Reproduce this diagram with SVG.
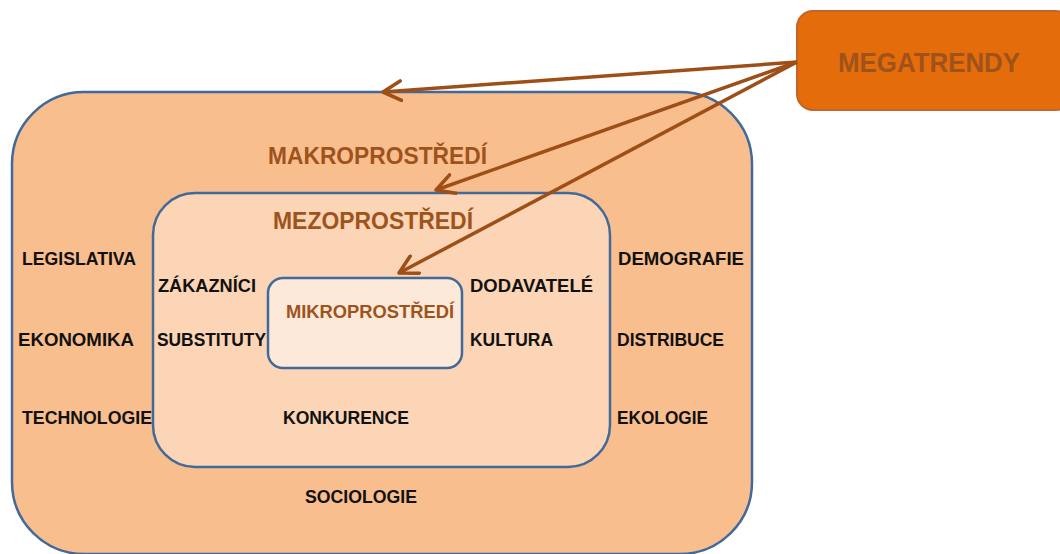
<svg xmlns="http://www.w3.org/2000/svg" width="1060" height="554" viewBox="0 0 1060 554">
<defs>
<style>
.box{stroke:#41699A;stroke-width:2.5}
.lbl{font-family:"Liberation Sans",Arial,sans-serif;font-weight:bold;font-size:19px;fill:#111}
.ttl{font-family:"Liberation Sans",Arial,sans-serif;font-weight:bold;fill:#9E531C}
.conn{stroke:#9E4F17;stroke-width:3.5;fill:none;marker-end:url(#ah)}
</style>
<marker id="ah" viewBox="0 0 14 14" refX="12" refY="7" markerWidth="6.5" markerHeight="6.5" orient="auto" markerUnits="strokeWidth">
<path d="M1,1 L12,7 L1,13" fill="none" stroke="#9E4F17" stroke-width="2.2" stroke-linecap="round" stroke-linejoin="round"/>
</marker>
</defs>
<rect width="1060" height="554" fill="#fff"/>
<g id="makro">
<rect class="box" x="12" y="92" width="740" height="462" rx="72" fill="#F9BE8E"/>
<text class="ttl" x="268" y="164" font-size="24" textLength="219" lengthAdjust="spacingAndGlyphs">MAKROPROSTŘEDÍ</text>
<text class="lbl" x="22" y="265" textLength="114" lengthAdjust="spacingAndGlyphs">LEGISLATIVA</text>
<text class="lbl" x="18" y="346" textLength="116" lengthAdjust="spacingAndGlyphs">EKONOMIKA</text>
<text class="lbl" x="22" y="424" textLength="130" lengthAdjust="spacingAndGlyphs">TECHNOLOGIE</text>
<text class="lbl" x="618" y="265" textLength="126" lengthAdjust="spacingAndGlyphs">DEMOGRAFIE</text>
<text class="lbl" x="617" y="346" textLength="107" lengthAdjust="spacingAndGlyphs">DISTRIBUCE</text>
<text class="lbl" x="617" y="424" textLength="91" lengthAdjust="spacingAndGlyphs">EKOLOGIE</text>
<text class="lbl" x="305" y="503" textLength="112" lengthAdjust="spacingAndGlyphs">SOCIOLOGIE</text>
</g>
<g id="mezo">
<rect class="box" x="153" y="193" width="457" height="274" rx="42" fill="#FBD5B5"/>
<text class="ttl" x="273" y="229" font-size="24" textLength="200" lengthAdjust="spacingAndGlyphs">MEZOPROSTŘEDÍ</text>
<text class="lbl" x="158" y="292" textLength="98" lengthAdjust="spacingAndGlyphs">ZÁKAZNÍCI</text>
<text class="lbl" x="157" y="346" textLength="109" lengthAdjust="spacingAndGlyphs">SUBSTITUTY</text>
<text class="lbl" x="470" y="292" textLength="123" lengthAdjust="spacingAndGlyphs">DODAVATELÉ</text>
<text class="lbl" x="470" y="346" textLength="83" lengthAdjust="spacingAndGlyphs">KULTURA</text>
<text class="lbl" x="283" y="424" textLength="126" lengthAdjust="spacingAndGlyphs">KONKURENCE</text>
</g>
<g id="mikro">
<rect class="box" x="268" y="278" width="194" height="90" rx="15" fill="#FDE9D9"/>
<text class="ttl" x="286" y="318" font-size="19" textLength="168" lengthAdjust="spacingAndGlyphs" fill="#B0652E">MIKROPROSTŘEDÍ</text>
</g>
<g id="megatrendy">
<rect x="797" y="11" width="275" height="99" rx="16" fill="#E46C0A" stroke="#C0662A" stroke-width="2"/>
<text class="ttl" x="838" y="72" font-size="28" textLength="182" lengthAdjust="spacingAndGlyphs" fill="#984807">MEGATRENDY</text>
</g>
<g id="connectors">
<line class="conn" x1="797" y1="62" x2="383" y2="92"/>
<line class="conn" x1="797" y1="62" x2="436" y2="190"/>
<line class="conn" x1="797" y1="62" x2="399" y2="273"/>
</g>
</svg>
